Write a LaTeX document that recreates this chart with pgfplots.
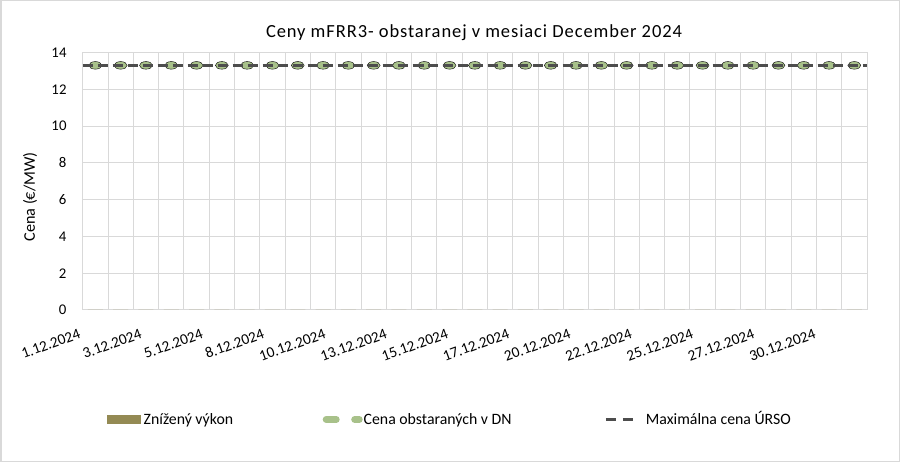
\documentclass[border=0pt]{standalone}
\usepackage{pgfplots}
\pgfplotsset{compat=1.18}
\usepackage{fontspec}
\setmainfont{Carlito}
\newfontfamily\titlefont[LetterSpace=5]{Carlito}
\definecolor{gridgray}{HTML}{D9D9D9}
\definecolor{olivebar}{HTML}{948A54}
\definecolor{greenmark}{HTML}{A8C18A}
\definecolor{darkline}{HTML}{4D4D4D}
\pgfplotsset{
  base/.style={
    at={(82.7bp,152bp)}, anchor=south west,
    width=784.3bp, height=257.5bp, scale only axis,
    ymin=0, ymax=14,
  }
}
\begin{document}
\begin{tikzpicture}
\useasboundingbox (0,0) rectangle (900bp,462bp);
\draw[gridgray, line width=1.5bp] (0.75bp,0.75bp) rectangle (899.25bp,461.25bp);
\node[font=\titlefont\fontsize{18.5bp}{22bp}\selectfont, anchor=base] at (474bp,424.7bp) {Ceny mFRR3- obstaranej v mesiaci December 2024};
\begin{axis}[base,
  xmin=0.5, xmax=31.5,
  ytick={0,2,...,14},
  xtick={0.5,2.9217,5.3433,7.765,10.187,12.608,15.03,17.452,19.873,22.295,24.717,27.138,29.56},
  xticklabels={1.12.2024,3.12.2024,5.12.2024,8.12.2024,10.12.2024,13.12.2024,15.12.2024,17.12.2024,20.12.2024,22.12.2024,25.12.2024,27.12.2024,30.12.2024},
  minor xtick={0.5,1.5,...,31.5},
  xminorgrids=true, xmajorgrids=false, ymajorgrids=true,
  major tick length=0pt, minor tick length=0pt,
  grid style={draw=gridgray, line width=1bp},
  minor grid style={draw=gridgray, line width=1bp},
  axis line style={draw=gridgray, line width=1bp},
  /pgf/number format/assume math mode=true,
  yticklabel style={font=\fontsize{14.8bp}{17bp}\selectfont, anchor=east, inner sep=0pt, xshift=-16bp},
  xticklabel style={font=\fontsize{15.2bp}{18bp}\selectfont, yshift=-28bp, xshift=-1bp, rotate=20, anchor=south east, inner sep=0pt},
  ylabel={Cena (€/MW)},
  ylabel style={font=\fontsize{16.2bp}{19bp}\selectfont, at={(axis description cs:-0.0672,0.439)}, anchor=center, rotate=0},
]
\addplot[ybar, bar width=15bp, fill=olivebar, draw=none, forget plot] coordinates {
(1,0) (2,0) (3,0) (4,0) (5,0) (6,0) (7,0) (8,0) (9,0) (10,0) (11,0) (12,0) (13,0) (14,0) (15,0) (16,0)
(17,0) (18,0) (19,0) (20,0) (21,0) (22,0) (23,0) (24,0) (25,0) (26,0) (27,0) (28,0) (29,0) (30,0) (31,0)};
\addplot[only marks, mark=*, mark size=3.8bp, mark options={xscale=1.7, fill=greenmark, draw=none}, forget plot] coordinates {
(1,13.3) (2,13.3) (3,13.3) (4,13.3) (5,13.3) (6,13.3) (7,13.3) (8,13.3) (9,13.3) (10,13.3) (11,13.3)
(12,13.3) (13,13.3) (14,13.3) (15,13.3) (16,13.3) (17,13.3) (18,13.3) (19,13.3) (20,13.3) (21,13.3)
(22,13.3) (23,13.3) (24,13.3) (25,13.3) (26,13.3) (27,13.3) (28,13.3) (29,13.3) (30,13.3) (31,13.3)};
\end{axis}
\begin{axis}[base,
  xmin=1, xmax=31, hide axis,
  legend columns=3,
  legend cell align=left,
  legend style={draw=none, fill=none, inner sep=0pt, column sep=0pt,
    at={(axis description cs:0.02588,-0.42524)}, anchor=west,
    font=\fontsize{15.8bp}{18bp}\selectfont,
    nodes={inner sep=0pt, text height=10bp, text depth=0pt}},
]
\addlegendimage{legend image code/.code={
  \path[draw=none, fill=none] (0bp,-5bp) rectangle (40.5bp,5bp);
  \fill[olivebar, draw=none] (4bp,-4.5bp) rectangle (38bp,4.5bp);}}
\addlegendentry{\makebox[179bp][l]{Znížený výkon}}
\addlegendimage{legend image code/.code={
  \path[draw=none, fill=none] (0bp,-5bp) rectangle (41bp,5bp);
  \draw[greenmark, solid, fill=none, line width=7bp, line cap=round] (3.5bp,0) -- (13.5bp,0);
  \draw[greenmark, solid, fill=none, line width=7bp, line cap=round] (32bp,0) -- (36.5bp,0);}}
\addlegendentry{\makebox[241bp][l]{Cena obstaraných v DN}}
\addplot[darkline, line width=2.5bp, dash pattern=on 10bp off 5bp,
  legend image code/.code={
  \path[draw=none, fill=none] (0bp,-5bp) rectangle (40bp,5bp);
  \draw[darkline, solid, fill=none, line width=2.5bp] (0bp,0) -- (10bp,0);
  \draw[darkline, solid, fill=none, line width=2.5bp] (17bp,0) -- (27bp,0);}] coordinates {
(1,13.3) (2,13.3) (3,13.3) (4,13.3) (5,13.3) (6,13.3) (7,13.3) (8,13.3) (9,13.3) (10,13.3) (11,13.3)
(12,13.3) (13,13.3) (14,13.3) (15,13.3) (16,13.3) (17,13.3) (18,13.3) (19,13.3) (20,13.3) (21,13.3)
(22,13.3) (23,13.3) (24,13.3) (25,13.3) (26,13.3) (27,13.3) (28,13.3) (29,13.3) (30,13.3) (31,13.3)};
\addlegendentry{Maximálna cena ÚRSO}
\end{axis}
\end{tikzpicture}
\end{document}
